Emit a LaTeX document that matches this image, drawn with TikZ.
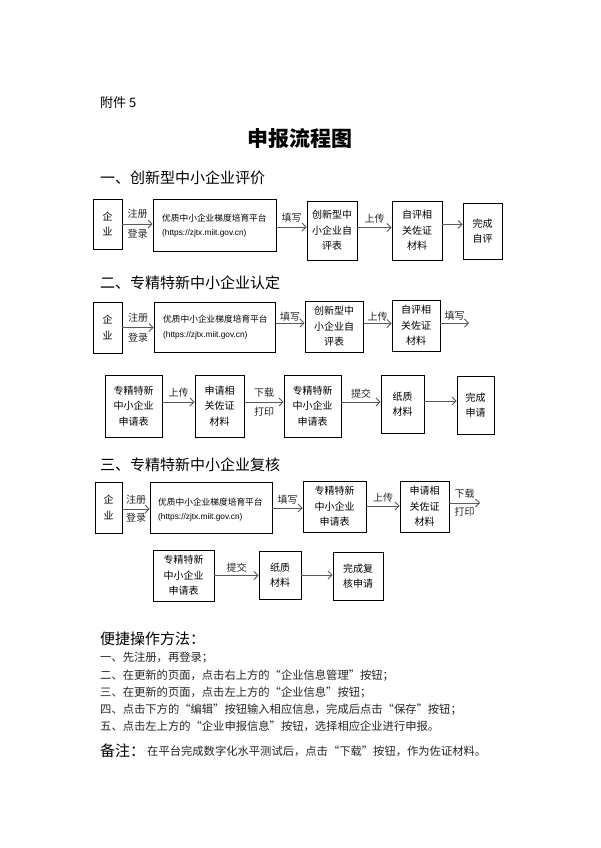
\documentclass[tikz,border=0pt]{standalone}
\usepackage{fontspec}
\setmainfont{Noto Sans CJK SC}
\newfontfamily\urlfont{Liberation Sans}
\usetikzlibrary{arrows.meta}
\newcommand{\myoq}{\makebox[1em][r]{“}}
\newcommand{\mycq}{\makebox[1em][l]{”}}
\tikzset{
  box/.style={draw=black, line width=0.9pt, inner sep=0pt, align=center, font=\fontsize{10}{15.5}\selectfont},
  arr/.style={draw=black!65, line width=0.8pt, -{Straight Barb[length=4pt,width=8pt]}},
  lab/.style={font=\fontsize{10}{12}\selectfont, text=black!85, inner sep=0pt},
  plat/.style={anchor=west, inner sep=0pt, font=\fontsize{8.7}{10}\selectfont},
  url/.style={anchor=west, inner sep=0pt, font=\urlfont\fontsize{8.3}{10}\selectfont},
  head/.style={anchor=west, inner sep=0pt, font=\fontsize{15}{18}\selectfont},
  body/.style={anchor=west, inner sep=0pt, font=\fontsize{11.3}{13}\selectfont, text=black!85}
}
\begin{document}
\begin{tikzpicture}[x=1pt,y=-1pt]
\useasboundingbox (0,0) rectangle (600,848);
\fill[white] (0,0) rectangle (600,848);

% header
\node[anchor=west, inner sep=0pt, font=\fontsize{13}{15}\selectfont] (att) at (100,103) {附件 5};
\node[inner sep=0pt, font=\fontsize{21}{24}\selectfont\bfseries] (title) at (300,139) {申报流程图};

% ---------- section 1 ----------
\node[head] (h1) at (100,178) {一、创新型中小企业评价};
\node[box, minimum width=29pt, minimum height=50pt] (q1) at (107.5,224) {企\\业};
\node[box, minimum width=123pt, minimum height=52pt] (p1) at (214.5,225) {};
\node[plat] (p1a) at (162,218) {优质中小企业梯度培育平台};
\node[url] (p1b) at (162,233) {(https://zjtx.miit.gov.cn)};
\node[box, minimum width=50pt, minimum height=59pt] (c1) at (332,230.5) {创新型中\\小企业自\\评表};
\node[box, minimum width=50pt, minimum height=59pt] (z1) at (417,230.5) {自评相\\关佐证\\材料};
\node[box, minimum width=39pt, minimum height=56pt] (w1) at (482.5,231) {完成\\自评};
\draw[arr] (q1.east) -- (q1.east -| p1.west) node[midway,above=5pt,lab]{注册} node[midway,below=5pt,lab]{登录};
\draw[arr] ([yshift=-2pt]p1.east) -- ([yshift=-2pt]p1.east -| c1.west) node[midway,above=4pt,lab]{填写};
\draw[arr] ([yshift=3pt]c1.east) -- ([yshift=3pt]c1.east -| z1.west) node[midway,above=4pt,lab]{上传};
\draw[arr] ([yshift=6pt]z1.east) -- ([yshift=6pt]z1.east -| w1.west);

% ---------- section 2 ----------
\node[head] (h2) at (100,283) {二、专精特新中小企业认定};
\node[box, minimum width=29pt, minimum height=51pt] (q2) at (107.5,327.5) {企\\业};
\node[box, minimum width=121pt, minimum height=50pt] (p2) at (214.5,327) {};
\node[plat] (p2a) at (163,319) {优质中小企业梯度培育平台};
\node[url] (p2b) at (163,335) {(https://zjtx.miit.gov.cn)};
\node[box, minimum width=58pt, minimum height=51pt] (c2) at (334,326.5) {创新型中\\小企业自\\评表};
\node[box, minimum width=48pt, minimum height=51pt] (z2) at (416,325.5) {自评相\\关佐证\\材料};
\coordinate (e2) at (469,323);
\draw[arr] (q2.east) -- (q2.east -| p2.west) node[midway,above=5pt,lab]{注册} node[midway,below=5pt,lab]{登录};
\draw[arr] ([yshift=4pt]p2.east) -- ([yshift=4pt]p2.east -| c2.west) node[midway,above=1pt,lab]{填写};
\draw[arr] ([yshift=3pt]c2.east) -- ([yshift=3pt]c2.east -| z2.west) node[midway,above=2pt,lab]{上传};
\draw[arr] ([yshift=2.5pt]z2.east) -- (e2) node[midway,above=2pt,lab]{填写};

\node[box, minimum width=57pt, minimum height=62pt] (a2) at (133.5,406) {专精特新\\中小企业\\申请表};
\node[box, minimum width=49pt, minimum height=62pt] (b2) at (219.5,406) {申请相\\关佐证\\材料};
\node[box, minimum width=57pt, minimum height=62pt] (d2) at (312.5,406) {专精特新\\中小企业\\申请表};
\node[box, minimum width=43pt, minimum height=58pt] (f2) at (402.5,404) {纸质\\材料};
\node[box, minimum width=37pt, minimum height=58pt] (g2) at (475.5,405) {完成\\申请};
\draw[arr] ([yshift=4pt]a2.east) -- ([yshift=4pt]a2.east -| b2.west) node[midway,above=4pt,lab]{上传};
\draw[arr] ([yshift=4pt]b2.east) -- ([yshift=4pt]b2.east -| d2.west) node[midway,above=4pt,lab]{下载} node[midway,below=5pt,lab]{打印};
\draw[arr] ([yshift=4pt]d2.east) -- ([yshift=4pt]d2.east -| f2.west) node[midway,above=3pt,lab]{提交};
\draw[arr] ([yshift=3pt]f2.east) -- ([yshift=3pt]f2.east -| g2.west);

% ---------- section 3 ----------
\node[head] (h3) at (100,465) {三、专精特新中小企业复核};
\node[box, minimum width=27pt, minimum height=51pt] (q3) at (108.5,507.5) {企\\业};
\node[box, minimum width=122pt, minimum height=51pt] (p3) at (211,507.5) {};
\node[plat] (p3a) at (158,502) {优质中小企业梯度培育平台};
\node[url] (p3b) at (158,517) {(https://zjtx.miit.gov.cn)};
\node[box, minimum width=63pt, minimum height=51pt] (c3) at (334.5,506.5) {专精特新\\中小企业\\申请表};
\node[box, minimum width=49pt, minimum height=51pt] (z3) at (424.5,506.5) {申请相\\关佐证\\材料};
\coordinate (e3) at (480,503);
\draw[arr] ([yshift=-1.5pt]q3.east) -- ([yshift=-1.5pt]q3.east -| p3.west) node[midway,above=4pt,lab]{注册} node[midway,below=4pt,lab]{登录};
\draw[arr] ([yshift=-0.5pt]p3.east) -- ([yshift=-0.5pt]p3.east -| c3.west) node[midway,above=3pt,lab]{填写};
\draw[arr] ([yshift=0.5pt]c3.east) -- ([yshift=0.5pt]c3.east -| z3.west) node[midway,above=3pt,lab]{上传};
\draw[arr] ([yshift=3.5pt]z3.east) -- (e3) node[midway,above=4pt,lab]{下载} node[midway,below=4pt,lab]{打印};

\node[box, minimum width=61pt, minimum height=51pt] (a3) at (183.5,575.5) {专精特新\\中小企业\\申请表};
\node[box, minimum width=42pt, minimum height=48pt] (f3) at (280,575) {纸质\\材料};
\node[box, minimum width=50pt, minimum height=48pt] (g3) at (358,576) {完成复\\核申请};
\draw[arr] (a3.east) -- (a3.east -| f3.west) node[midway,above=3pt,lab]{提交};
\draw[arr] (f3.east) -- (f3.east -| g3.west);

% ---------- notes ----------
\node[anchor=west, inner sep=0pt, font=\fontsize{15}{18}\selectfont] (n0) at (100,639) {便捷操作方法：};
\node[body] (n1) at (100,658) {一、先注册，再登录；};
\node[body] (n2) at (100,676) {二、在更新的页面，点击右上方的\myoq 企业信息管理\mycq 按钮；};
\node[body] (n3) at (100,693) {三、在更新的页面，点击左上方的\myoq 企业信息\mycq 按钮；};
\node[body] (n4) at (100,710) {四、点击下方的\myoq 编辑\mycq 按钮输入相应信息，完成后点击\myoq 保存\mycq 按钮；};
\node[body] (n5) at (100,726) {五、点击左上方的\myoq 企业申报信息\mycq 按钮，选择相应企业进行申报。};
\node[anchor=west, inner sep=0pt, font=\fontsize{15}{18}\selectfont] (n6) at (100,751) {备注：};
\node[body] (n7) at (147,751) {在平台完成数字化水平测试后，点击\myoq 下载\mycq 按钮，作为佐证材料。};
\end{tikzpicture}
\end{document}
